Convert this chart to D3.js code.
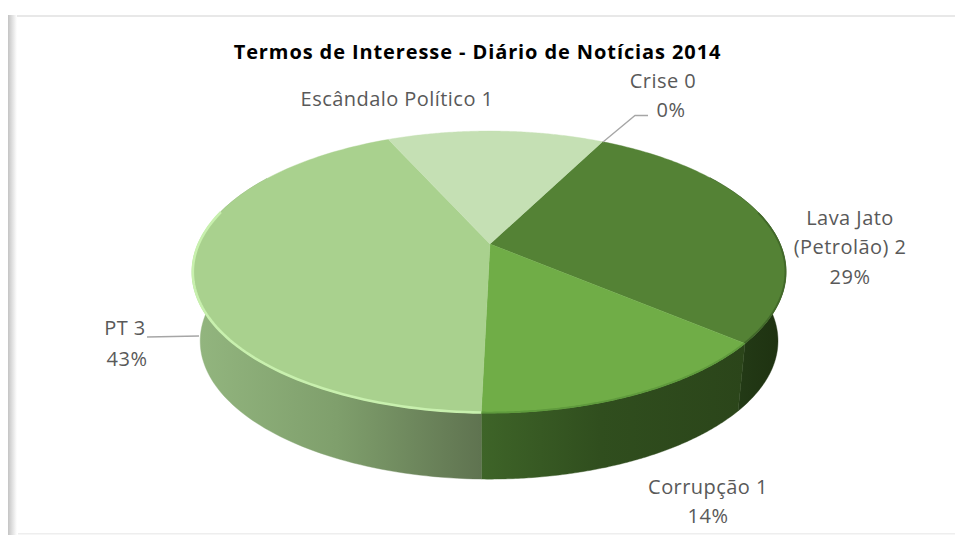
<!DOCTYPE html>
<html><head><meta charset="utf-8">
<script src="https://cdn.jsdelivr.net/npm/d3@7"></script>
<style>html,body{margin:0;padding:0;background:#fff}svg{display:block}
text{font-family:"Open Sans",sans-serif}</style></head><body>
<svg id="c" width="955" height="535"></svg>
<script>
const categories=["Crise","Lava Jato (Petrolão)","Corrupção","PT","Escândalo Político"];
const values=[0,2,1,3,1];
const titleText="Termos de Interesse - Diário de Notícias 2014";
const topColors=["#a5a5a5","#548235","#70ad47","#a9d18e","#c5e0b4"];
const labelLines=[["Crise 0","0%"],["Lava Jato","(Petrolão) 2","29%"],["Corrupção 1","14%"],["PT 3","43%"],["Escândalo Político 1"]];
const labelAnchors=[[[663,88],[671,117]],[[850,225],[850,254],[850,284]],[[708,494],[708,523]],[[125,335],[127,366]],[[397,106]]];
const wallStops=[[],
 [[0,"#26401a"],[1,"#1e3110"]],
 [[0,"#3e6428"],[.45,"#304e1e"],[1,"#2b451a"]],
 [[0,"#93b67f"],[.5,"#7f9f6c"],[1,"#5f7350"]],
 []];
const leaders=[[[603,142],[635,115.5],[648,115.5]],[[147,337],[199,336]]];

const svg=d3.select("#c"),W=955,H=535;
const defs=svg.append("defs");
defs.append("filter").attr("id","soft").append("feGaussianBlur").attr("stdDeviation",.7);
const leftG=defs.append("linearGradient").attr("id","frameLeft");
leftG.append("stop").attr("offset",0).attr("stop-color","#c4c4c4");
leftG.append("stop").attr("offset",1).attr("stop-color","#ffffff");

// frame
svg.append("rect").attr("x",8).attr("y",15).attr("width",W-8).attr("height",2).attr("fill","#e8e8e8");
svg.append("rect").attr("x",18).attr("y",533).attr("width",W-18).attr("height",1.5).attr("fill","#eeeeee");
svg.append("rect").attr("x",8).attr("y",15).attr("width",9).attr("height",H-15).attr("fill","url(#frameLeft)");

// perspective projection of the unit disc
const k=.1986,m=.003,ax=490,ay=244,B=291,A=135.4;
const proj=(t,r=1)=>{const X=r*Math.sin(t),Y=-r*Math.cos(t),w=1-k*Y+m*X;
  return [ax+B*X/w,ay+A*Y/w];};
const low=p=>[489+(p[0]-489)*.973,341+(p[1]-272)*.98];

const start=27.1*Math.PI/180;
const arcs=d3.pie().sort(null).startAngle(start).endAngle(start+2*Math.PI)(values);
const line=d3.line();
const samples=(a0,a1)=>d3.range(0,121).map(i=>a0+(a1-a0)*i/120);

// walls
arcs.forEach((a,i)=>{
  if(!wallStops[i].length||a.value===0)return;
  const ts=samples(a.startAngle,a.endAngle).filter(t=>Math.cos(t)<.55);
  const tp=ts.map(t=>proj(t)),bt=ts.map(t=>low(proj(t)));
  const xs=tp.map(p=>p[0]).concat(bt.map(p=>p[0]));
  const g=defs.append("linearGradient").attr("id","wall"+i).attr("gradientUnits","userSpaceOnUse")
    .attr("x1",d3.min(xs)).attr("x2",d3.max(xs)).attr("y1",0).attr("y2",0);
  wallStops[i].forEach(s=>g.append("stop").attr("offset",s[0]).attr("stop-color",s[1]));
  svg.append("path").attr("d",line(tp.concat(bt.reverse()))+"Z").attr("fill",`url(#wall${i})`)
    .attr("stroke",`url(#wall${i})`).attr("stroke-width",.4);
});

// top faces
arcs.forEach((a,i)=>{
  if(a.value===0)return;
  const pts=[[ax,ay]].concat(samples(a.startAngle,a.endAngle).map(t=>proj(t)));
  svg.append("path").attr("d",line(pts)+"Z").attr("fill",topColors[i]).attr("stroke",topColors[i]).attr("stroke-width",.4);
});
// bevel rims
arcs.forEach((a,i)=>{
  if(i<1||i>3)return;
  const ts=samples(a.startAngle,a.endAngle).filter(t=>Math.cos(t)<.25);
  svg.append("path").attr("d",line(ts.map(t=>proj(t,.998)))).attr("fill","none")
    .attr("stroke",i===3?"#c8f0ae":(i===2?"#5f9a3c":"#42692a")).attr("stroke-width",i===3?2.6:1.8).attr("filter","url(#soft)");
});

// leaders
leaders.forEach(l=>svg.append("path").attr("d",line(l)).attr("fill","none").attr("stroke","#a6a6a6").attr("stroke-width",1.3));

// title
svg.append("text").attr("x",477.5).attr("y",59).attr("text-anchor","middle")
  .attr("font-size",20).attr("font-weight",700).attr("letter-spacing",.9).attr("fill","#000").text(titleText);

// labels
labelLines.forEach((ls,i)=>{
  const t=svg.append("text").attr("text-anchor","middle").attr("font-size",20).attr("letter-spacing",.45).attr("fill","#595959");
  ls.forEach((s,j)=>t.append("tspan").attr("x",labelAnchors[i][j][0]).attr("y",labelAnchors[i][j][1]).text(s));
});
</script></body></html>
